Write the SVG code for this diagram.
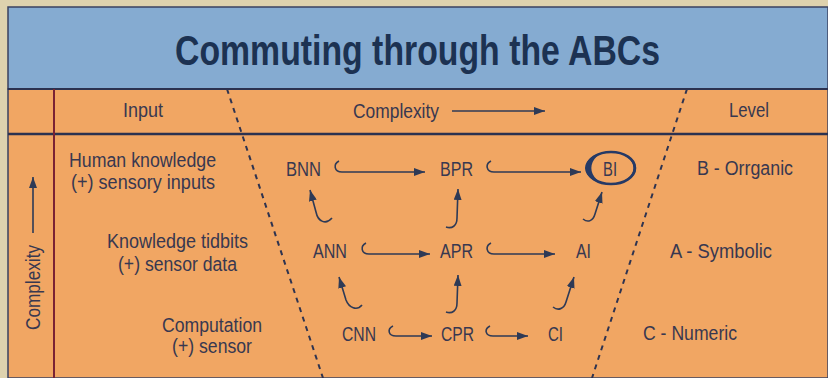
<svg xmlns="http://www.w3.org/2000/svg" width="828" height="378" viewBox="0 0 828 378">
<style>
.t{font-family:"Liberation Sans","Arial",sans-serif;font-size:20px;fill:#383850}
.title{font-family:"Liberation Sans","Arial",sans-serif;font-weight:bold;font-size:42px;fill:#1c3252}
.dash{stroke:#2e3350;stroke-width:2;stroke-dasharray:5 5;fill:none}
.arr{stroke:#2e3a56;stroke-width:1.6;fill:none;marker-end:url(#ah)}
</style>
<defs>
<marker id="ah" markerUnits="userSpaceOnUse" markerWidth="11" markerHeight="8" refX="11" refY="4" orient="auto">
<path d="M0,0 L11,4 L0,8 Z" fill="#2e3a56"/>
</marker>
</defs>
<rect x="0" y="0" width="828" height="378" fill="#ded2ae"/>
<rect x="8" y="7" width="820" height="82" fill="#85abd1" stroke="#3a4260" stroke-width="1.5"/>
<rect x="8" y="89" width="820" height="289" fill="#f1a663" stroke="#3a4260" stroke-width="1.5"/>
<line x1="8" y1="89" x2="828" y2="89" stroke="#2c3250" stroke-width="2"/>
<line x1="8" y1="134" x2="828" y2="134" stroke="#2c3250" stroke-width="2.5"/>
<line x1="54" y1="89" x2="54" y2="378" stroke="#7a2234" stroke-width="2"/>
<text class="title" x="175" y="65" textLength="485" lengthAdjust="spacingAndGlyphs">Commuting through the ABCs</text>

<g id="header">
<text class="t" x="123" y="117" textLength="40" lengthAdjust="spacingAndGlyphs">Input</text>
<text class="t" x="353" y="118" textLength="86" lengthAdjust="spacingAndGlyphs">Complexity</text>
<text class="t" x="729" y="117" textLength="40" lengthAdjust="spacingAndGlyphs">Level</text>
</g>

<g id="axis-left">
<text class="t" transform="translate(40,330) rotate(-90)" x="0" y="0" textLength="85" lengthAdjust="spacingAndGlyphs">Complexity</text>
</g>

<g id="inputs">
<text class="t" x="69" y="167" textLength="147" lengthAdjust="spacingAndGlyphs">Human knowledge</text>
<text class="t" x="71" y="189" textLength="144" lengthAdjust="spacingAndGlyphs">(+) sensory inputs</text>
<text class="t" x="107" y="248" textLength="141" lengthAdjust="spacingAndGlyphs">Knowledge tidbits</text>
<text class="t" x="118" y="271" textLength="119" lengthAdjust="spacingAndGlyphs">(+) sensor data</text>
<text class="t" x="162" y="332" textLength="100" lengthAdjust="spacingAndGlyphs">Computation</text>
<text class="t" x="172" y="353" textLength="80" lengthAdjust="spacingAndGlyphs">(+) sensor</text>
</g>

<g id="levels">
<text class="t" x="697" y="175" textLength="96" lengthAdjust="spacingAndGlyphs">B - Orrganic</text>
<text class="t" x="670" y="258" textLength="102" lengthAdjust="spacingAndGlyphs">A - Symbolic</text>
<text class="t" x="643" y="340" textLength="94" lengthAdjust="spacingAndGlyphs">C - Numeric</text>
</g>

<g id="funnel">
<line class="dash" x1="227" y1="89" x2="323" y2="378"/>
<line class="dash" x1="687" y1="89" x2="592" y2="378"/>
</g>

<g id="BNN"><text class="t" x="286" y="176" textLength="35" lengthAdjust="spacingAndGlyphs">BNN</text></g>
<g id="BPR"><text class="t" x="440" y="176" textLength="33" lengthAdjust="spacingAndGlyphs">BPR</text></g>
<g id="BI">
<ellipse cx="611" cy="168" rx="24" ry="16" fill="none" stroke="#263a66" stroke-width="2.6"/>
<path d="M609,152 A24,16 0 0 0 609,184 A16,14.5 0 0 1 609,152 Z" fill="#263a66"/>
<path d="M614,152.3 A24,16 0 0 1 614,183.7 A21,15 0 0 0 614,152.3 Z" fill="#263a66"/>
<text class="t" x="603" y="176" textLength="14" lengthAdjust="spacingAndGlyphs">BI</text>
</g>
<g id="ANN"><text class="t" x="313" y="258" textLength="34" lengthAdjust="spacingAndGlyphs">ANN</text></g>
<g id="APR"><text class="t" x="440" y="258" textLength="33" lengthAdjust="spacingAndGlyphs">APR</text></g>
<g id="AI"><text class="t" x="576" y="258" textLength="15" lengthAdjust="spacingAndGlyphs">AI</text></g>
<g id="CNN"><text class="t" x="342" y="341" textLength="34" lengthAdjust="spacingAndGlyphs">CNN</text></g>
<g id="CPR"><text class="t" x="441" y="341" textLength="33" lengthAdjust="spacingAndGlyphs">CPR</text></g>
<g id="CI"><text class="t" x="548" y="341" textLength="15" lengthAdjust="spacingAndGlyphs">CI</text></g>

<g id="connectors">
<line class="arr" x1="452" y1="111" x2="545" y2="111"/>
<line class="arr" x1="33" y1="233" x2="33" y2="177"/>
<path class="arr" d="M339,161 C333,164 334,172 342,172 L425,172"/>
<path class="arr" d="M491,161 C485,164 486,172 494,172 L581,172"/>
<path class="arr" d="M366,243 C360,246 361,254 369,254 L430,254"/>
<path class="arr" d="M491,243 C485,246 486,254 494,254 L555,254"/>
<path class="arr" d="M393,326 C387,329 388,336 396,336 L432,336"/>
<path class="arr" d="M490,326 C484,329 485,336 493,336 L528,336"/>
<path class="arr" d="M332,218 C326,225 318,222 316,212 L310,190"/>
<path class="arr" d="M446,227 C452,229 457,226 457,218 L458,189"/>
<path class="arr" d="M583,219 C588,223 593,221 595,214 L602,192"/>
<path class="arr" d="M362,305 C357,311 349,308 346,300 L339,277"/>
<path class="arr" d="M446,312 C452,314 457,311 457,303 L458,275"/>
<path class="arr" d="M553,307 C558,311 564,309 566,302 L574,277"/>
</g>
</svg>
